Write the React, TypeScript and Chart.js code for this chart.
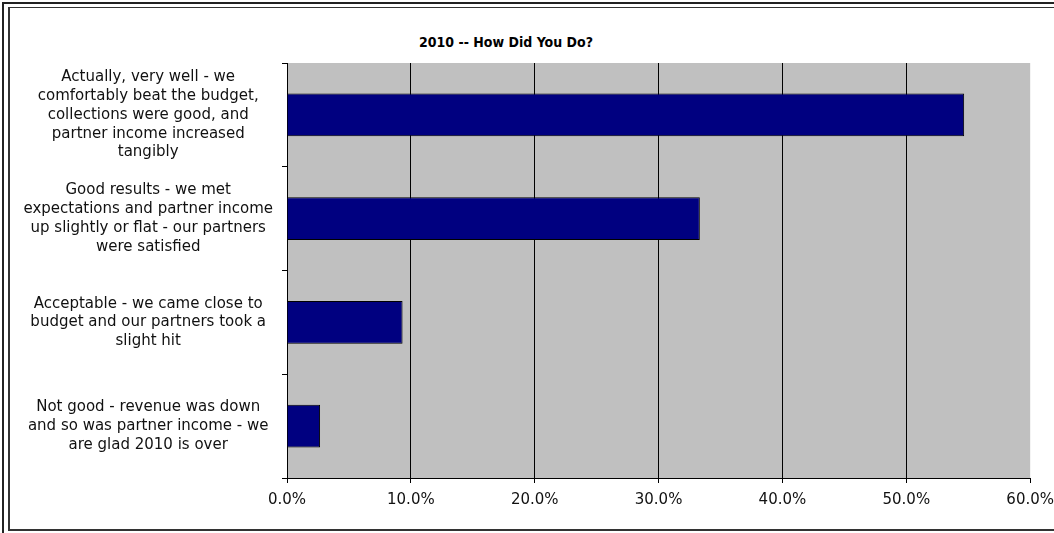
import React, { useEffect, useRef } from "react";
import { Chart, registerables } from "chart.js";

Chart.register(...registerables);

const TITLE = "2010 -- How Did You Do?";
const CATEGORIES: string[][] = [
  ["Actually, very well - we", "comfortably beat the budget,", "collections were good, and", "partner income increased", "tangibly"],
  ["Good results - we met", "expectations and partner income", "up slightly or flat - our partners", "were satisfied"],
  ["Acceptable - we came close to", "budget and our partners took a", "slight hit"],
  ["Not good - revenue was down", "and so was partner income - we", "are glad 2010 is over"],
];
const VALUES: number[] = [54.67, 33.33, 9.33, 2.67];
const X_MIN = 0;
const X_MAX = 60;
const X_STEP = 10;

const FONT = "'DejaVu Sans', Verdana, sans-serif";

const plotBg = {
  id: "plotBg",
  beforeDraw(chart: any) {
    const { ctx, chartArea } = chart;
    if (!chartArea) return;
    ctx.save();
    ctx.fillStyle = "#C0C0C0";
    ctx.fillRect(chartArea.left, chartArea.top, chartArea.right - chartArea.left, chartArea.bottom - chartArea.top);
    ctx.restore();
  },
};

export default function App() {
  const ref = useRef<HTMLCanvasElement | null>(null);

  useEffect(() => {
    if (!ref.current) return;
    const chart = new Chart(ref.current, {
      type: "bar",
      data: {
        labels: CATEGORIES,
        datasets: [
          {
            data: VALUES,
            backgroundColor: "#000080",
            borderColor: "#000000",
            borderWidth: 1,
            barPercentage: 1,
            categoryPercentage: 0.41,
          },
        ],
      },
      options: {
        indexAxis: "y",
        responsive: false,
        animation: false,
        layout: { padding: { top: 55, bottom: 0, right: 0, left: 0 } },
        plugins: {
          legend: { display: false },
          title: { display: false },
          tooltip: { enabled: false },
        },
        scales: {
          x: {
            min: X_MIN,
            max: X_MAX,
            afterFit: (s: any) => {
              s.height = 52;
            },
            ticks: {
              stepSize: X_STEP,
              color: "#111",
              padding: 8,
              font: { family: FONT, size: 15 },
              callback: (v: any) => Number(v).toFixed(1) + "%",
            },
            grid: {
              color: (c: any) => (c.tick && c.tick.value === X_MAX ? "rgba(0,0,0,0)" : "#000"),
              tickColor: "#000",
              tickLength: 5,
              lineWidth: 1,
            },
            border: { color: "#000", width: 1 },
          },
          y: {
            afterFit: (s: any) => {
              s.width = 275;
              s.paddingTop = 0;
              s.paddingBottom = 0;
            },
            ticks: {
              color: "#111",
              padding: 9,
              crossAlign: "center",
              font: { family: FONT, size: 15, lineHeight: 1.25 },
            },
            grid: {
              drawOnChartArea: false,
              offset: true,
              color: "#000",
              tickLength: 5,
            },
            border: { color: "#000", width: 1 },
          },
        },
      },
      plugins: [plotBg],
    });
    return () => chart.destroy();
  }, []);

  return (
    <div style={{ position: "fixed", left: 0, top: 0, width: 1054, height: 533, overflow: "hidden", background: "#fff" }}>
      <div
        style={{
          position: "absolute",
          left: 2,
          top: 2,
          width: 1200,
          height: 700,
          borderLeft: "2px solid #222",
          borderTop: "2px solid #222",
        }}
      />
      <div
        style={{
          position: "absolute",
          left: 8,
          top: 7,
          width: 1200,
          height: 521,
          borderLeft: "2px solid #333",
          borderTop: "1px solid #333",
          borderBottom: "2px solid #333",
        }}
      />
      <div
        style={{
          position: "absolute",
          left: 306,
          top: 33,
          width: 400,
          textAlign: "center",
          fontFamily: "'DejaVu Sans Condensed', 'DejaVu Sans', sans-serif",
          fontWeight: "bold",
          fontSize: 14,
          lineHeight: "18px",
          color: "#000",
        }}
      >
        {TITLE}
      </div>
      <canvas ref={ref} width={1050} height={522} style={{ position: "absolute", left: 12, top: 8 }} />
    </div>
  );
}
